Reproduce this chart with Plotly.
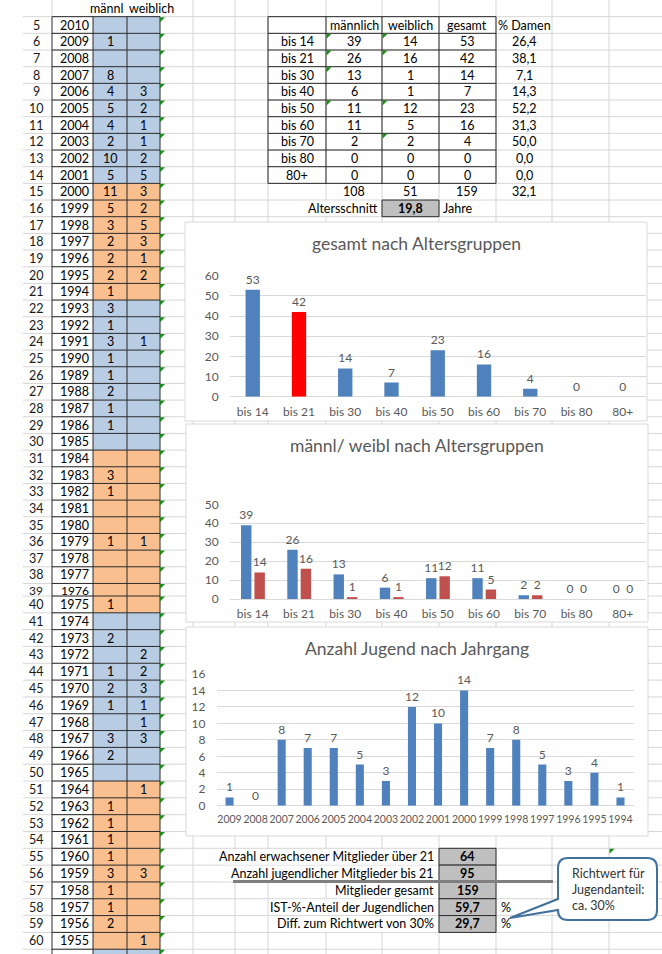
import plotly.graph_objects as go

# ---------------- data ----------------
years = list(range(2010, 1954, -1))  # 2010 .. 1955
maennl = [None, 1, None, 8, 4, 5, 4, 2, 10, 5,
          11, 5, 3, 2, 2, 2, 1,
          3, 1, 3, 1, 1, 2, 1, 1, None,
          None, 3, 1, None, None, 1, None, None, None, 1,
          None, 2, None, 1, 2, 1, None, 3, 2, None,
          None, 1, 1, 1, 1, 3, 1, 1, 2, None]
weibl = [None, None, None, None, 3, 2, 1, 1, 2, 5,
         3, 2, 5, 3, 1, 2, None,
         None, None, 1, None, None, None, None, None, None,
         None, None, None, None, None, 1, None, None, None, None,
         None, None, 2, 2, 3, 1, 1, 3, None, None,
         1, None, None, None, None, 3, None, None, None, 1]

groups = ["bis 14", "bis 21", "bis 30", "bis 40", "bis 50", "bis 60", "bis 70", "bis 80", "80+"]
grp_m = [39, 26, 13, 6, 11, 11, 2, 0, 0]
grp_w = [14, 16, 1, 1, 12, 5, 2, 0, 0]
grp_g = [53, 42, 14, 7, 23, 16, 4, 0, 0]
grp_pct = ["26,4", "38,1", "7,1", "14,3", "52,2", "31,3", "50,0", "0,0", "0,0"]
table_head = ["männlich", "weiblich", "gesamt", "% Damen"]
table_totals = ["108", "51", "159", "32,1"]
avg_age = "19,8"

jahrgang = ["2009", "2008", "2007", "2006", "2005", "2004", "2003", "2002",
            "2001", "2000", "1999", "1998", "1997", "1996", "1995", "1994"]
jugend = [1, 0, 8, 7, 7, 5, 3, 12, 10, 14, 7, 8, 5, 3, 4, 1]

summary_labels = ["Anzahl erwachsener Mitglieder über 21", "Anzahl jugendlicher Mitglieder bis 21",
                  "Mitglieder gesamt", "IST-%-Anteil der Jugendlichen", "Diff. zum Richtwert von 30%"]
summary_values = ["64", "95", "159", "59,7", "29,7"]
summary_units = ["", "", "", "%", "%"]
callout_lines = ["Richtwert für", "Jugendanteil:", "ca. 30%"]

chart_titles = ["gesamt nach Altersgruppen", "männl/ weibl nach Altersgruppen", "Anzahl Jugend nach Jahrgang"]

# ---------------- style / layout ----------------
W, H = 662, 954
FONT = "Lato"
FS = 12.5
GRID = "#D6D6D6"
BORDER = "#2A2A2A"
BLUE_CELL = "#B8CCE4"
ORANGE_CELL = "#FABF8F"
GRAY_CELL = "#BFBFBF"
BAR_BLUE = "#4F81BD"
BAR_RED = "#C0504D"
HILITE = "#FF0000"
CHART_TXT = "#595959"
CHART_GRID = "#D9D9D9"
GREEN = "#1A8C1A"
orange_ranges = [(2000, 1994), (1984, 1975), (1964, 1955)]


def rtop(r):
    if r <= 39:
        return (r - 4) * 16.67
    return 596 + (r - 40) * 16.82


def rmid(r):
    return (rtop(r) + rtop(r + 1)) / 2


shapes = []
ann = []


def line(x0, y0, x1, y1, color=GRID, width=1):
    shapes.append(dict(type="line", xref="x", yref="y", x0=x0, y0=y0, x1=x1, y1=y1,
                       layer="below", line=dict(color=color, width=width)))


def rect(x0, y0, x1, y1, fill, lc=None, lw=0):
    shapes.append(dict(type="rect", xref="x", yref="y", x0=x0, y0=y0, x1=x1, y1=y1,
                       layer="below", fillcolor=fill,
                       line=dict(color=lc or fill, width=lw)))


def tri(x, y, s=5):
    shapes.append(dict(type="path", xref="x", yref="y", layer="below",
                       path=f"M {x},{y} L {x+s},{y} L {x},{y+s} Z",
                       fillcolor=GREEN, line=dict(width=0)))


def txt(x, y, s, anchor="center", bold=False, color="#000000", size=FS):
    if s is None or s == "":
        return
    t = f"<b>{s}</b>" if bold else str(s)
    ann.append(dict(x=x, y=y, xref="x", yref="y", text=t, showarrow=False,
                    xanchor=anchor, yanchor="middle",
                    font=dict(family=FONT, size=size, color=color)))


# sheet gridlines
cols = [193, 235, 268, 326, 382, 439, 496, 552, 609]
for r in range(5, 62):
    line(23, rtop(r), W, rtop(r))
for cx in cols:
    line(cx, 0, cx, H)
line(52, 0, 52, rtop(5))

# cover gridlines where overflowing text sits
for (r, x0, x1) in [(4, 92, 176), (16, 300, 381), (55, 222, 438), (56, 222, 438),
                    (57, 336, 438), (58, 277, 438), (59, 284, 438)]:
    rect(x0, rtop(r) + 0.6, x1, rtop(r + 1) - 0.6, "#FFFFFF")

# left table
for r in range(5, 62):
    yr = 2015 - r
    orange = any(a >= yr >= b for a, b in orange_ranges)
    rect(93, rtop(r), 160, rtop(r + 1), ORANGE_CELL if orange else BLUE_CELL)
for r in range(5, 62):
    line(52, rtop(r), 160, rtop(r), BORDER, 1)
for cx in [52, 93, 127, 160]:
    line(cx, rtop(5), cx, H, BORDER, 1)
for r in range(5, 62):
    tri(160, rtop(r) + 0.5)

txt(124.5, rmid(4), "männl", "right")
txt(127, rmid(4), "weiblich", "left")
for i, yv in enumerate(years):
    r = 5 + i
    yc = rmid(r)
    sz = FS
    if r == 38:
        yc -= 0.8
    if r == 39:
        yc += 1.0
        sz = FS - 0.5
    txt(36, yc, str(r), "center", color="#1A1A1A", size=sz)
    txt(90.5, yc, str(yv), "right", size=sz)
    txt(110, yc, maennl[i], "center", size=sz)
    txt(143.5, yc, weibl[i], "center", size=sz)

# right table
tcols = [268, 326, 382, 439, 496]
tcent = [297, 354, 410.5, 467.3, 524]
for r in range(5, 16):
    line(268, rtop(r), 496, rtop(r), BORDER, 1)
for cx in tcols:
    line(cx, rtop(5), cx, rtop(15), BORDER, 1)
for j, h in enumerate(table_head):
    txt(tcent[j + 1], rmid(5), h)
for i, g in enumerate(groups):
    r = 6 + i
    txt(tcent[0], rmid(r), g)
    txt(tcent[1], rmid(r), grp_m[i])
    txt(tcent[2], rmid(r), grp_w[i])
    txt(tcent[3], rmid(r), grp_g[i])
    txt(tcent[4], rmid(r), grp_pct[i])
for j, tv in enumerate(table_totals):
    txt(tcent[j + 1], rmid(15), tv)
for r in [6, 7, 8, 10]:
    tri(326.5, rtop(r) + 0.5)
for r in [6, 7, 10, 12]:
    tri(382.5, rtop(r) + 0.5)
rect(382, rtop(16), 439, rtop(17), GRAY_CELL, BORDER, 1)
txt(380, rmid(16), "Altersschnitt", "right")
txt(410.5, rmid(16), avg_age, bold=True)
txt(441, rmid(16), "Jahre", "left")

# summary block
for i, lab in enumerate(summary_labels):
    r = 55 + i
    rect(439, rtop(r), 496, rtop(r + 1), GRAY_CELL, BORDER, 1)
    txt(435.5, rmid(r), lab, "right")
    txt(467.5, rmid(r), summary_values[i], bold=True)
    txt(499, rmid(r), summary_units[i], "left")
line(233, rtop(57) - 0.5, 553, rtop(57) - 0.5, "#7F7F7F", 3)
tri(609.5, rtop(55) + 0.5)

# callout
shapes.append(dict(type="path", xref="x", yref="y", layer="below",
                   path="M 568,858 L 647,858 Q 657,858 657,868 L 657,910 Q 657,920 647,920 "
                        "L 568,920 Q 558,920 558,910 L 510,918 L 558,899 L 558,868 Q 558,858 568,858 Z",
                   fillcolor="#FFFFFF", line=dict(color="#41719C", width=2)))
for k, s in enumerate(callout_lines):
    txt(570, 873.5 + k * 16, s, "left", color="#333333")

# chart frames
frames = [(185, 222, 647, 421), (186, 424, 648, 622), (186, 627, 648, 836)]
for (x0, y0, x1, y1) in frames:
    rect(x0, y0, x1, y1, "#FFFFFF", CHART_GRID, 1)
title_y = [243, 445, 648]
for t, ty in zip(chart_titles, title_y):
    txt(416.5, ty, t, "center", color=CHART_TXT, size=17.5)

# ---------------- charts ----------------
fig = go.Figure()
lab_font = dict(family=FONT, size=12, color=CHART_TXT)
common = dict(textposition="outside", textfont=lab_font, cliponaxis=False,
              constraintext="none", hoverinfo="skip", showlegend=False)

fig.add_trace(go.Bar(x=groups, y=grp_g, xaxis="x2", yaxis="y2", width=0.31,
                     marker=dict(color=[HILITE if g == "bis 21" else BAR_BLUE for g in groups], line=dict(width=0)),
                     text=grp_g, **common))
fig.add_trace(go.Bar(x=groups, y=grp_m, xaxis="x3", yaxis="y3", width=0.225, offset=-0.253,
                     marker=dict(color=BAR_BLUE, line=dict(width=0)),
                     text=grp_m, **common))
fig.add_trace(go.Bar(x=groups, y=grp_w, xaxis="x3", yaxis="y3", width=0.225, offset=0.037,
                     marker=dict(color=BAR_RED, line=dict(width=0)),
                     text=grp_w, **common))
fig.add_trace(go.Bar(x=jahrgang, y=jugend, xaxis="x4", yaxis="y4", width=0.31,
                     marker=dict(color=BAR_BLUE, line=dict(width=0)),
                     text=jugend, **common))

# invisible trace to anchor sheet axes
fig.add_trace(go.Scatter(x=[0], y=[0], xaxis="x", yaxis="y", mode="markers",
                         marker=dict(size=0.1, opacity=0), hoverinfo="skip", showlegend=False))


def xdom(a, b):
    return [a / W, b / W]


def ydom(top, bottom):
    return [1 - bottom / H, 1 - top / H]


tick_font = dict(family=FONT, size=12, color=CHART_TXT)


def xax(dom, anchor, size=12):
    return dict(domain=dom, anchor=anchor, type="category", showgrid=False, zeroline=False,
                showline=False, ticks="", tickangle=0,
                tickfont=dict(family=FONT, size=size, color=CHART_TXT),
                ticklabelstandoff=6, fixedrange=True, automargin=False)


def yax(dom, anchor, rng, dt, standoff=10):
    return dict(domain=dom, anchor=anchor, range=rng, dtick=dt, showgrid=True, gridcolor=CHART_GRID,
                gridwidth=1, zeroline=True, zerolinecolor=CHART_GRID, zerolinewidth=1,
                showline=False, ticks="", tickfont=tick_font, ticklabelstandoff=standoff,
                fixedrange=True, automargin=False)


fig.update_layout(
    width=W, height=H, autosize=False,
    margin=dict(l=0, r=0, t=0, b=0, pad=0),
    paper_bgcolor="#FFFFFF", plot_bgcolor="rgba(0,0,0,0)",
    font=dict(family=FONT, size=12, color="#000000"),
    barmode="group", showlegend=False,
    xaxis=dict(domain=[0, 1], range=[0, W], visible=False, fixedrange=True, automargin=False),
    yaxis=dict(domain=[0, 1], range=[H, 0], visible=False, fixedrange=True, automargin=False),
    xaxis2=xax(xdom(229.6, 645.9), "y2"),
    yaxis2=yax(ydom(275.7, 396.7), "x2", [0, 60], 10),
    xaxis3=xax(xdom(229.6, 645.9), "y3"),
    yaxis3=yax(ydom(504.3, 599), "x3", [0, 50], 10),
    xaxis4=xax(xdom(216.5, 633.5), "y4", size=10.5),
    yaxis4=yax(ydom(674, 805.7), "x4", [0, 16], 2),
    shapes=shapes,
    annotations=ann,
)

fig.write_html("out.html", config={"displayModeBar": False},
               post_script="document.body.style.margin='0px';document.body.style.overflow='hidden';")
